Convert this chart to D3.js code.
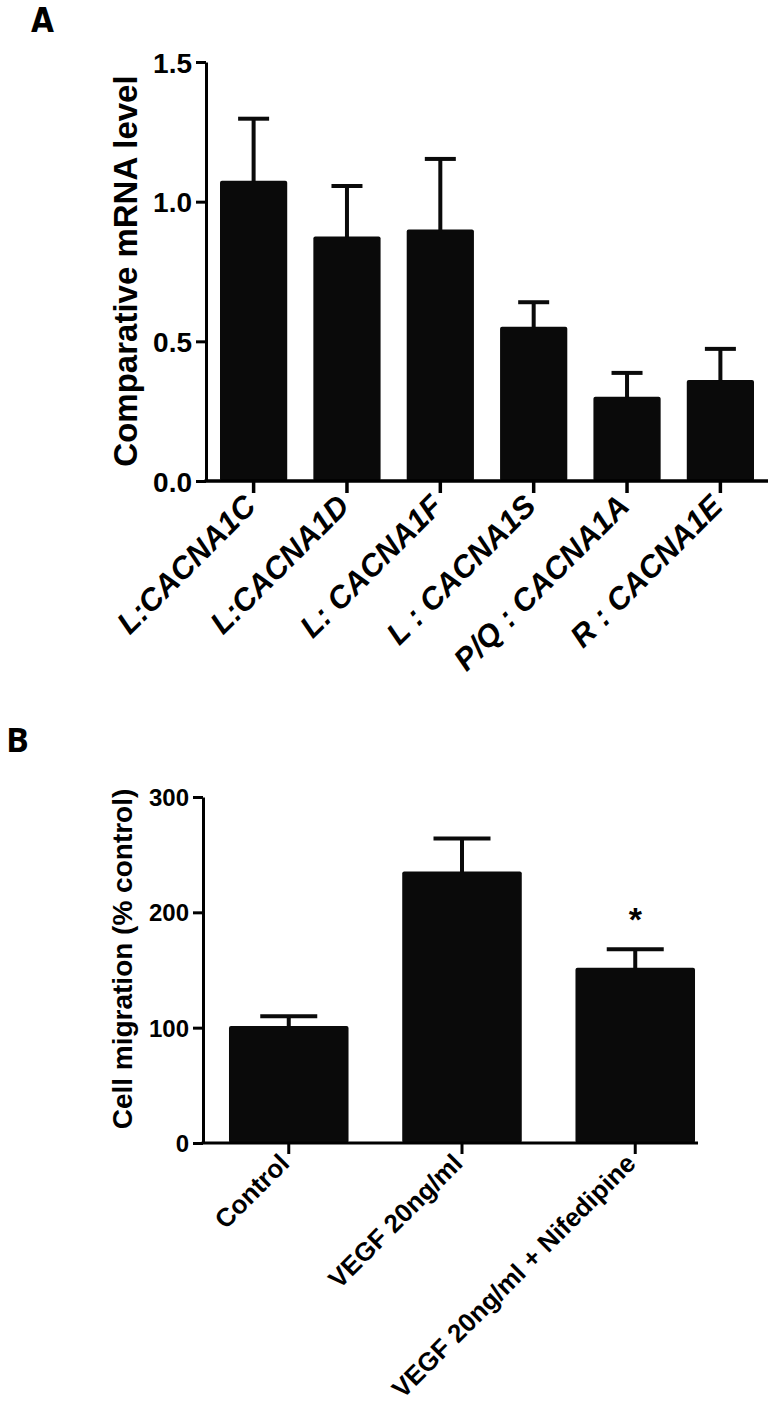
<!DOCTYPE html>
<html>
<head>
<meta charset="utf-8">
<script src="https://cdn.jsdelivr.net/npm/d3@7"></script>
<style>
  html, body { margin: 0; padding: 0; background: #fff; }
  svg { display: block; }
  text { font-family: Arial, "Liberation Sans", sans-serif; font-weight: bold; fill: #000; }
</style>
</head>
<body>
<svg id="chart" width="776" height="1415"></svg>
<script>
// ---------- Panel A data ----------
const geneLabels = ["L:CACNA1C", "L:CACNA1D", "L: CACNA1F", "L : CACNA1S", "P/Q : CACNA1A", "R : CACNA1E"];
const mrnaMeans  = [1.075, 0.875, 0.900, 0.552, 0.302, 0.362];
const mrnaErrors = [0.222, 0.181, 0.253, 0.088, 0.085, 0.111];
const mrnaTicks  = [0, 0.5, 1.0, 1.5];

// ---------- Panel B data ----------
const treatLabels    = ["Control", "VEGF 20ng/ml", "VEGF 20ng/ml + Nifedipine"];
const migrationMeans = [101.5, 235.5, 152];
const migrationErrs  = [8.5, 28.5, 16];
const migrationSig   = ["", "", "*"];
const migrationTicks = [0, 100, 200, 300];

const svg = d3.select("#chart");
svg.append("rect").attr("width", 776).attr("height", 1415).attr("fill", "#fff");

const BAR = "#0a0a0a";

function styleAxis(g, width) {
  g.selectAll("path.domain").attr("stroke", "#000").attr("stroke-width", width);
  g.selectAll(".tick line").attr("stroke", "#000").attr("stroke-width", width);
}

// ================= Panel A =================
{
  const ax = 206, y0 = 481, yTop = 62;
  const x = d3.scaleBand().domain(geneLabels).range([ax, 768]).paddingInner(0.28).paddingOuter(0.15);
  const y = d3.scaleLinear().domain([0, 1.5]).range([y0, yTop]);
  const g = svg.append("g");

  g.selectAll("rect.bar").data(geneLabels).join("rect")
    .attr("x", d => x(d)).attr("width", x.bandwidth())
    .attr("y", (d, i) => y(mrnaMeans[i]))
    .attr("height", (d, i) => y0 - y(mrnaMeans[i]))
    .attr("rx", 2).attr("fill", BAR);

  const capW = 31;
  geneLabels.forEach((d, i) => {
    const cx = x(d) + x.bandwidth() / 2;
    const top = y(mrnaMeans[i] + mrnaErrors[i]);
    g.append("line").attr("x1", cx).attr("x2", cx).attr("y1", y(mrnaMeans[i]) + 1).attr("y2", top)
      .attr("stroke", BAR).attr("stroke-width", 4);
    g.append("line").attr("x1", cx - capW / 2).attr("x2", cx + capW / 2).attr("y1", top).attr("y2", top)
      .attr("stroke", BAR).attr("stroke-width", 4);
  });

  const gy = g.append("g").attr("transform", `translate(${ax},0)`)
    .call(d3.axisLeft(y).tickValues(mrnaTicks).tickFormat(d3.format(".1f")).tickSize(10).tickSizeOuter(0).tickPadding(4));
  styleAxis(gy, 3);
  gy.selectAll(".tick text").style("font-size", "28px").attr("dy", "0.36em");

  const gx = g.append("g").attr("transform", `translate(0,${y0})`)
    .call(d3.axisBottom(x).tickSize(12).tickSizeOuter(0));
  styleAxis(gx, 3.5);
  gx.selectAll("path.domain").attr("d", `M${ax - 1.5},0H768`);
  gx.selectAll(".tick text")
    .attr("x", 0).attr("y", 0).attr("dy", 0)
    .attr("transform", "translate(4,27) rotate(-45)")
    .style("text-anchor", "end").style("font-size", "31px").style("font-style", "italic");

  g.append("text").attr("transform", "translate(137,271) rotate(-90)")
    .attr("text-anchor", "middle").style("font-size", "33px").text("Comparative mRNA level");

  svg.append("text").attr("x", 31).attr("y", 32)
    .style("font-family", "'Liberation Sans Narrow', 'DejaVu Sans Condensed', Arial, sans-serif")
    .style("font-size", "33px").text("A");
}

// ================= Panel B =================
{
  const ax = 203, y0 = 1143, yTop = 797;
  const x = d3.scaleBand().domain(treatLabels).range([ax, 721]).paddingInner(0.31).paddingOuter(0.15);
  const y = d3.scaleLinear().domain([0, 300]).range([y0, yTop]);
  const g = svg.append("g");

  g.selectAll("rect.bar").data(treatLabels).join("rect")
    .attr("x", d => x(d)).attr("width", x.bandwidth())
    .attr("y", (d, i) => y(migrationMeans[i]))
    .attr("height", (d, i) => y0 - y(migrationMeans[i]))
    .attr("rx", 2).attr("fill", BAR);

  const capW = 57;
  treatLabels.forEach((d, i) => {
    const cx = x(d) + x.bandwidth() / 2;
    const top = y(migrationMeans[i] + migrationErrs[i]);
    g.append("line").attr("x1", cx).attr("x2", cx).attr("y1", y(migrationMeans[i]) + 1).attr("y2", top)
      .attr("stroke", BAR).attr("stroke-width", 4);
    g.append("line").attr("x1", cx - capW / 2).attr("x2", cx + capW / 2).attr("y1", top).attr("y2", top)
      .attr("stroke", BAR).attr("stroke-width", 4);
    if (migrationSig[i]) {
      g.append("text").attr("x", cx).attr("y", top - 18).attr("text-anchor", "middle")
        .style("font-size", "34px").text(migrationSig[i]);
    }
  });

  const gy = g.append("g").attr("transform", `translate(${ax},0)`)
    .call(d3.axisLeft(y).tickValues(migrationTicks).tickSize(10).tickSizeOuter(0).tickPadding(4));
  styleAxis(gy, 3);
  gy.selectAll(".tick text").style("font-size", "24px").attr("dy", "0.36em");

  const last = treatLabels[treatLabels.length - 1];
  const gx = g.append("g").attr("transform", `translate(0,${y0})`)
    .call(d3.axisBottom(x).tickSize(11).tickSizeOuter(0));
  styleAxis(gx, 3);
  gx.selectAll("path.domain").attr("d", `M${ax - 1.5},0H${x(last) + x.bandwidth() + 3}`);
  gx.selectAll(".tick text")
    .attr("x", 0).attr("y", 0).attr("dy", 0)
    .attr("transform", "translate(2,22) rotate(-45)")
    .style("text-anchor", "end").style("font-size", "26px");

  g.append("text").attr("transform", "translate(132,959) rotate(-90)")
    .attr("text-anchor", "middle").style("font-size", "28px").text("Cell migration (% control)");

  svg.append("text").attr("x", 6).attr("y", 752)
    .style("font-family", "'Open Sans', Arial, sans-serif")
    .style("font-size", "34px").text("B");
}
</script>
</body>
</html>
